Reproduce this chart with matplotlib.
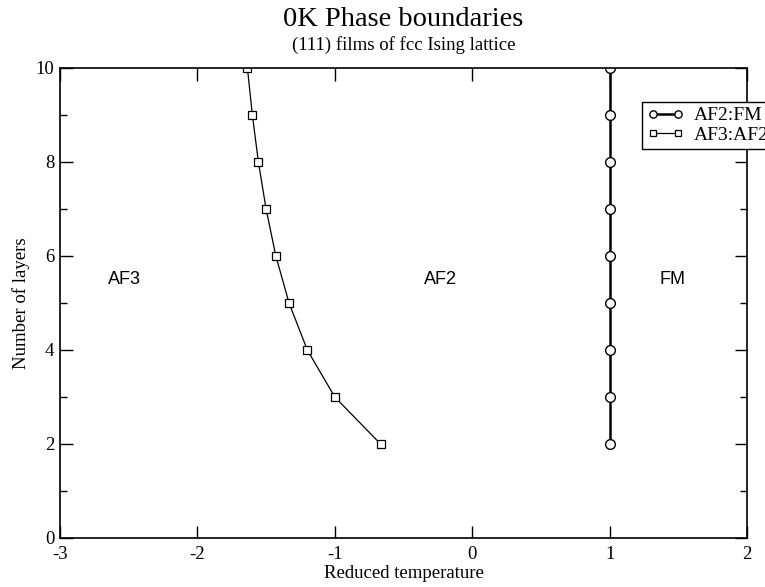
import matplotlib
matplotlib.use("Agg")
import matplotlib.pyplot as plt
from matplotlib.ticker import MultipleLocator

# AF2:FM boundary (circles) and AF3:AF2 boundary (squares)
layers_fm = [2, 3, 4, 5, 6, 7, 8, 9, 10]
temp_fm = [1, 1, 1, 1, 1, 1, 1, 1, 1]

layers_af3 = [2, 3, 4, 5, 6, 7, 8, 9, 10]
temp_af3 = [-0.667, -1.0, -1.2, -1.333, -1.429, -1.5, -1.556, -1.6, -1.636]

region_names = ["AF3", "AF2", "FM"]
region_x = [-2.53, -0.23, 1.46]
region_y = [5.5, 5.5, 5.5]

serif = "Liberation Serif"
sans = "Liberation Sans"
plt.rcParams["axes.unicode_minus"] = False

fig = plt.figure(figsize=(7.65, 5.87), dpi=100)
ax = fig.add_axes([60 / 765, 1 - 538 / 587, 687 / 765, 470 / 587])

ax.plot(temp_fm, layers_fm, color="black", lw=1.8, marker="o", ms=7,
        mfc="white", mec="black", mew=1.0, label="AF2:FM")
ax.plot(temp_af3, layers_af3, color="black", lw=0.9, marker="s", ms=6,
        mfc="white", mec="black", mew=0.9, label="AF3:AF2")

ax.set_xlim(-3, 2)
ax.set_ylim(0, 10)
ax.xaxis.set_major_locator(MultipleLocator(1))
ax.yaxis.set_major_locator(MultipleLocator(2))
ax.yaxis.set_minor_locator(MultipleLocator(1))
ax.tick_params(which="both", direction="in", top=True, right=True,
               width=1.0, colors="black")
ax.tick_params(which="major", length=9, labelsize=13.5)
ax.tick_params(axis="x", which="major", pad=6)
ax.tick_params(axis="y", which="major", pad=4)
ax.tick_params(which="minor", length=5)
for lab in ax.get_xticklabels() + ax.get_yticklabels():
    lab.set_fontfamily(serif)
for sp in ax.spines.values():
    sp.set_linewidth(1.2)

ax.set_xlabel("Reduced temperature", fontfamily=serif, fontsize=13.5, labelpad=1)
ax.set_ylabel("Number of layers", fontfamily=serif, fontsize=13.5, labelpad=4)

fig.text(403.5 / 765, 1 - 19 / 587, "0K Phase boundaries", ha="center",
         va="center", fontfamily=serif, fontsize=20.5)
fig.text(403.5 / 765, 1 - 45 / 587, "(111) films of fcc Ising lattice",
         ha="center", va="center", fontfamily=serif, fontsize=13.5)

for name, x, y in zip(region_names, region_x, region_y):
    ax.text(x, y, name, ha="center", va="center", fontfamily=sans, fontsize=13)

leg = ax.legend(loc="upper left", bbox_to_anchor=(642 / 765, 1 - 102 / 587),
                bbox_transform=fig.transFigure, numpoints=2, handlelength=1.9,
                handletextpad=0.5, borderpad=0.25, labelspacing=0.1,
                borderaxespad=0, fancybox=False, framealpha=1, markerscale=0.75,
                edgecolor="black", prop={"family": serif, "size": 14})
leg.get_frame().set_linewidth(1.0)

fig.savefig("out.png", dpi=100)
